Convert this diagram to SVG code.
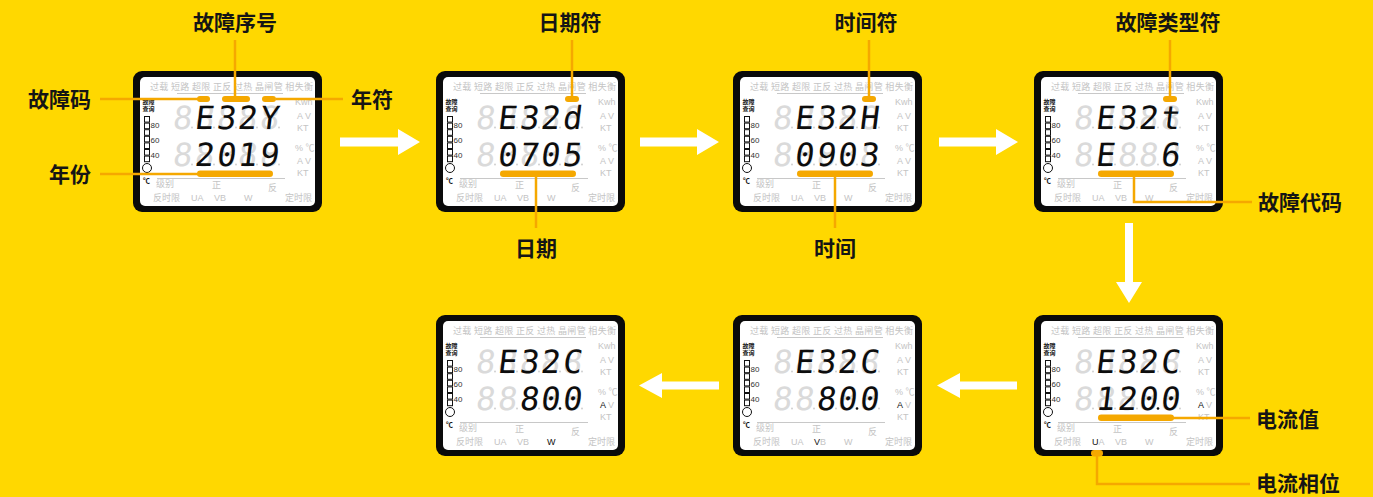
<svg xmlns="http://www.w3.org/2000/svg" xmlns:xlink="http://www.w3.org/1999/xlink" width="1373" height="497" viewBox="0 0 1373 497">
<style>
.bg{fill:#FFD800}
.frame{fill:#0a0a0a}
.screen{fill:#ffffff}
.lbl{font-family:"Noto Sans CJK SC","Liberation Sans",sans-serif;font-size:9px;fill:#c4c4c4}
.lat{font-family:"Liberation Sans","Noto Sans CJK SC",sans-serif;font-size:9px;fill:#c4c4c4}
.on{fill:#111111}
.qry{font-family:"Noto Sans CJK SC",sans-serif;font-size:6px;font-weight:700;fill:#111}
.sc{font-family:"Liberation Sans",sans-serif;font-size:8px;fill:#333}
.sep{stroke:#c8c8c8;stroke-width:1}
.sq{fill:#fff;stroke:#111;stroke-width:1}
.ghost{font-family:"DejaVu Sans Mono",monospace;font-size:32px;fill:#dadada}
.dig{font-family:"DejaVu Sans Mono",monospace;font-size:32px;fill:#0d0d0d}
.dot{fill:#d0d0d0}
.doton{fill:#111}
.pill{fill:#F5A800}
.call{stroke:#F5A800;stroke-width:2.5;fill:none}
.cap{font-family:"Noto Sans CJK SC",sans-serif;font-size:21px;font-weight:700;fill:#151515}
.arrow{fill:#ffffff}
</style>
<defs>
<g id="lcd">
<rect class="frame" x="0" y="0" width="189" height="141" rx="9"/>
<rect class="screen" x="7" y="6" width="175" height="129" rx="5"/>
<text class="lbl" x="17" y="19" textLength="163" lengthAdjust="spacing">过载 短路 超限 正反 过热 晶闸管 相失衡</text>
<line class="sep" x1="44" y1="22.5" x2="150" y2="22.5"/>
<text class="qry" x="9.5" y="33">故障</text>
<text class="qry" x="9.5" y="40">查询</text>
<rect class="sq" x="11.5" y="45.5" width="5" height="5.6"/>
<rect class="sq" x="11.5" y="52.1" width="5" height="5.6"/>
<rect class="sq" x="11.5" y="58.7" width="5" height="5.6"/>
<rect class="sq" x="11.5" y="65.3" width="5" height="5.6"/>
<rect class="sq" x="11.5" y="71.9" width="5" height="5.6"/>
<rect class="sq" x="11.5" y="78.5" width="5" height="5.6"/>
<rect class="sq" x="11.5" y="85.1" width="5" height="5.6"/>
<circle class="sq" cx="14" cy="97" r="4.5"/>
<text class="qry" x="10" y="112" style="font-size:7px">℃</text>
<text class="sc" x="17.5" y="57">80</text>
<text class="sc" x="17.5" y="72">60</text>
<text class="sc" x="17.5" y="87">40</text>
<text class="lat" x="162" y="34">Kwh</text>
<text class="lat" x="164" y="48">A V</text>
<text class="lat" x="164" y="60">KT</text>
<text class="lat" x="162" y="80">% ℃</text>
<text class="lat" x="164" y="105">KT</text>
<line class="sep" x1="24" y1="107.5" x2="152" y2="107.5"/>
<text class="lbl" x="23" y="116">级别</text>
<text class="lbl" x="79" y="117">正</text>
<text class="lbl" x="135" y="120">反</text>
<text class="lbl" x="20" y="130">反时限</text>
<text class="lbl" x="152" y="130">定时限</text>
<g transform="translate(0,57.5) skewX(-7)">
<text class="ghost" x="39 61 83 104 126" y="0">88888</text>
</g>
<g transform="translate(0,94.5) skewX(-7)">
<text class="ghost" x="39 61 83 104 126" y="0">88888</text>
</g>
<circle class="dot" cx="59" cy="56.5" r="1"/><circle class="dot" cx="81" cy="56.5" r="1"/><circle class="dot" cx="103" cy="56.5" r="1"/><circle class="dot" cx="124" cy="56.5" r="1"/><circle class="dot" cx="146" cy="56.5" r="1"/>
<circle class="dot" cx="59" cy="93.5" r="1"/><circle class="dot" cx="81" cy="93.5" r="1"/><circle class="dot" cx="103" cy="93.5" r="1"/><circle class="dot" cx="124" cy="93.5" r="1"/><circle class="dot" cx="146" cy="93.5" r="1"/>
</g>
</defs>
<rect class="bg" x="0" y="0" width="1373" height="497"/>

<g id="panel-1" transform="translate(133,71)">
<use xlink:href="#lcd" href="#lcd"/>
<text class="lat" x="164" y="93">A V</text>
<text class="lat" x="58" y="130">UA</text><text class="lat" x="81" y="130">VB</text><text class="lat" x="111" y="130">W</text>
<g transform="translate(0,57.5) skewX(-7)"><text class="dig" x="61 83 104 126" y="0">E32Y</text></g>
<g transform="translate(0,94.5) skewX(-7)"><text class="dig" x="61 83 104 126" y="0">2019</text></g>
<rect class="pill" x="64" y="25" width="13" height="6" rx="3"/>
<rect class="pill" x="89" y="25" width="28" height="6" rx="3"/>
<rect class="pill" x="129" y="25" width="14" height="6" rx="3"/>
<rect class="pill" x="64" y="99.5" width="76" height="6.5" rx="3.2"/>
</g>

<g id="panel-2" transform="translate(436,71)">
<use xlink:href="#lcd" href="#lcd"/>
<text class="lat" x="164" y="93">A V</text>
<text class="lat" x="58" y="130">UA</text><text class="lat" x="81" y="130">VB</text><text class="lat" x="111" y="130">W</text>
<g transform="translate(0,57.5) skewX(-7)"><text class="dig" x="61 83 104 126" y="0">E32d</text></g>
<g transform="translate(0,94.5) skewX(-7)"><text class="dig" x="61 83 104 126" y="0">0705</text></g>
<rect class="pill" x="129" y="25" width="14" height="6" rx="3"/>
<rect class="pill" x="64" y="99.5" width="76" height="6.5" rx="3.2"/>
</g>

<g id="panel-3" transform="translate(733,71)">
<use xlink:href="#lcd" href="#lcd"/>
<text class="lat" x="164" y="93">A V</text>
<text class="lat" x="58" y="130">UA</text><text class="lat" x="81" y="130">VB</text><text class="lat" x="111" y="130">W</text>
<g transform="translate(0,57.5) skewX(-7)"><text class="dig" x="61 83 104 126" y="0">E32H</text></g>
<g transform="translate(0,94.5) skewX(-7)"><text class="dig" x="61 83 104 126" y="0">0903</text></g>
<rect class="pill" x="129" y="25" width="14" height="6" rx="3"/>
<rect class="pill" x="64" y="99.5" width="76" height="6.5" rx="3.2"/>
</g>

<g id="panel-4" transform="translate(1034,71)">
<use xlink:href="#lcd" href="#lcd"/>
<text class="lat" x="164" y="93">A V</text>
<text class="lat" x="58" y="130">UA</text><text class="lat" x="81" y="130">VB</text><text class="lat" x="111" y="130">W</text>
<g transform="translate(0,57.5) skewX(-7)"><text class="dig" x="61 83 104 126" y="0">E32t</text></g>
<g transform="translate(0,94.5) skewX(-7)"><text class="dig" x="61" y="0">E</text><text class="dig" x="126" y="0">6</text></g>
<rect class="pill" x="129" y="25" width="14" height="6" rx="3"/>
<rect class="pill" x="64" y="99.5" width="76" height="6.5" rx="3.2"/>
</g>

<g id="panel-5" transform="translate(1034,315)">
<use xlink:href="#lcd" href="#lcd"/>
<text class="lat" x="164" y="93"><tspan class="on">A</tspan> V</text>
<text class="lat" x="58" y="130"><tspan class="on">U</tspan>A</text><text class="lat" x="81" y="130">VB</text><text class="lat" x="111" y="130">W</text>
<g transform="translate(0,57.5) skewX(-7)"><text class="dig" x="61 83 104 126" y="0">E32C</text></g>
<g transform="translate(0,94.5) skewX(-7)"><text class="dig" x="61 83 104 126" y="0">1200</text></g>
<circle class="doton" cx="124" cy="93.5" r="1.3"/>
<rect class="pill" x="64" y="99.5" width="76" height="6.5" rx="3.2"/>
<rect class="pill" x="57" y="135" width="12" height="6.5" rx="3.2"/>
</g>

<g id="panel-6" transform="translate(733,315)">
<use xlink:href="#lcd" href="#lcd"/>
<text class="lat" x="164" y="93"><tspan class="on">A</tspan> V</text>
<text class="lat" x="58" y="130">UA</text><text class="lat" x="81" y="130"><tspan class="on">V</tspan>B</text><text class="lat" x="111" y="130">W</text>
<g transform="translate(0,57.5) skewX(-7)"><text class="dig" x="61 83 104 126" y="0">E32C</text></g>
<g transform="translate(0,94.5) skewX(-7)"><text class="dig" x="83 104 126" y="0">800</text></g>
<circle class="doton" cx="124" cy="93.5" r="1.3"/>
</g>

<g id="panel-7" transform="translate(436,315)">
<use xlink:href="#lcd" href="#lcd"/>
<text class="lat" x="164" y="93"><tspan class="on">A</tspan> V</text>
<text class="lat" x="58" y="130">UA</text><text class="lat" x="81" y="130">VB</text><text class="lat on" x="111" y="130">W</text>
<g transform="translate(0,57.5) skewX(-7)"><text class="dig" x="61 83 104 126" y="0">E32C</text></g>
<g transform="translate(0,94.5) skewX(-7)"><text class="dig" x="83 104 126" y="0">800</text></g>
<circle class="doton" cx="124" cy="93.5" r="1.3"/>
</g>

<g id="connectors">
<path class="call" d="M235 40 V96"/>
<path class="call" d="M100 99 H200"/>
<path class="call" d="M276 99 H343"/>
<path class="call" d="M100 174 H200"/>
<path class="call" d="M572 40 V96"/>
<path class="call" d="M536 176 V228"/>
<path class="call" d="M869 40 V96"/>
<path class="call" d="M835 176 V228"/>
<path class="call" d="M1170 40 V96"/>
<path class="call" d="M1134 176 V202 H1252"/>
<path class="call" d="M1170 418 H1250"/>
<path class="call" d="M1097 452 V484 H1250"/>
<polygon class="arrow" points="340,137.5 398,137.5 398,129 420,142 398,155 398,146.5 340,146.5"/>
<polygon class="arrow" points="640,137.5 697,137.5 697,129 719,142 697,155 697,146.5 640,146.5"/>
<polygon class="arrow" points="939,137.5 996,137.5 996,129 1018,142 996,155 996,146.5 939,146.5"/>
<polygon class="arrow" points="1125,223 1133,223 1133,282 1142,282 1129,303 1116,282 1125,282"/>
<polygon class="arrow" points="719,381.5 662,381.5 662,373 639,385.5 662,398 662,389.5 719,389.5"/>
<polygon class="arrow" points="1017,381.5 960,381.5 960,373 937,385.5 960,398 960,389.5 1017,389.5"/>
</g>

<g id="labels">
<text class="cap" x="235" y="30" text-anchor="middle">故障序号</text>
<text class="cap" x="28" y="107">故障码</text>
<text class="cap" x="351" y="107">年符</text>
<text class="cap" x="49" y="182">年份</text>
<text class="cap" x="570" y="30" text-anchor="middle">日期符</text>
<text class="cap" x="536" y="256" text-anchor="middle">日期</text>
<text class="cap" x="866" y="30" text-anchor="middle">时间符</text>
<text class="cap" x="835" y="256" text-anchor="middle">时间</text>
<text class="cap" x="1168" y="30" text-anchor="middle">故障类型符</text>
<text class="cap" x="1258" y="210">故障代码</text>
<text class="cap" x="1256" y="427">电流值</text>
<text class="cap" x="1256" y="491">电流相位</text>
</g>
</svg>
